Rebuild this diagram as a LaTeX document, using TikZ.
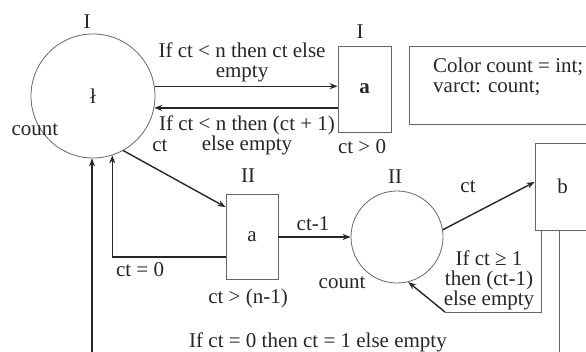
\documentclass[tikz,border=0pt]{standalone}
\usepackage{fontspec}
\setmainfont{Liberation Serif}
\usetikzlibrary{arrows.meta}
\begin{document}
\begin{tikzpicture}[x=1pt,y=-1pt,
  every node/.style={font=\fontsize{21}{20}\selectfont, inner sep=0pt, text=black!85},
  place/.style={draw=black!60, line width=0.8pt, circle},
  trans/.style={draw=black!60, line width=0.8pt, rectangle},
  arr/.style={draw=black!85, line width=1.4pt, -{Stealth[length=8pt,width=6pt]}},
  thinl/.style={draw=black!60, line width=0.8pt},
  thickl/.style={draw=black!85, line width=1.4pt},
  lbl/.style={align=center}]
\useasboundingbox (0,0) rectangle (586,352);
\clip (0,0) rectangle (586,352);
% places and transitions
\node[place, minimum size=124pt] (P1) at (93,96) {ł};
\node (P1top) at (87,22) {I};
\node (P1col) at (35,130) {count};
\node[trans, minimum width=53pt, minimum height=86pt] (A1) at (364.5,89) {\textbf{a}};
\node (A1top) at (360,32) {I};
\node (A1grd) at (362,147) {ct > 0};
\node[trans, minimum width=181pt, minimum height=78pt] (D) at (499.5,85) {};
\node[anchor=west, align=left] (Dtxt) at (433,77) {Color count = int;\\varct: count;};
\node[trans, minimum width=55pt, minimum height=87pt] (B) at (562.5,186.5) {b};
\node[place, minimum size=92pt] (P2) at (397,237) {};
\node (P2top) at (395,177) {II};
\node (P2col) at (342,283) {count};
\node[trans, minimum width=52pt, minimum height=85pt] (A2) at (252,237) {a};
\node (A2top) at (248,176) {II};
\node (A2grd) at (248,298) {ct > (n-1)};
% connectors
\draw[arr] (P1.9) -- (P1.9 -| A1.west);
\draw[arr] (A1.west |- P1.-11) -- (P1.-11);
\draw[arr] (P1.-61) -- ([yshift=-13pt]A2.north west);
\draw[arr] ([yshift=-20pt]A2.west) -| (P1.-72);
\draw[arr] (A2.east) -- (P2.west);
\draw[arr] (P2.9) -- ([yshift=4.5pt]B.west);
\coordinate (c1) at (445,312);
\draw[thinl] ([xshift=7pt]B.south west) |- (c1);
\draw[arr] (c1) -- (P2.-76);
\coordinate (c2) at (559,362);
\coordinate (c3) at (92,362);
\draw[thinl] (c2 |- B.south) -- (c2) -- (c3);
\draw[arr] (c3) -- (c3 |- P1.south);
% arc labels
\node[lbl] (L1) at (242,62) {If ct < n then ct else\\empty};
\node[lbl] (L2) at (247,135) {If ct < n then (ct + 1)\\else empty};
\node (L3) at (160,146) {ct};
\node (L4) at (140,270) {ct = 0};
\node (L5) at (313,224) {ct-1};
\node (L6) at (468,187) {ct};
\node[lbl] (L7) at (489,280) {If ct ≥ 1\\then (ct-1)\\else empty};
\node (L8) at (318,342) {If ct = 0 then ct = 1 else empty};
\end{tikzpicture}
\end{document}
